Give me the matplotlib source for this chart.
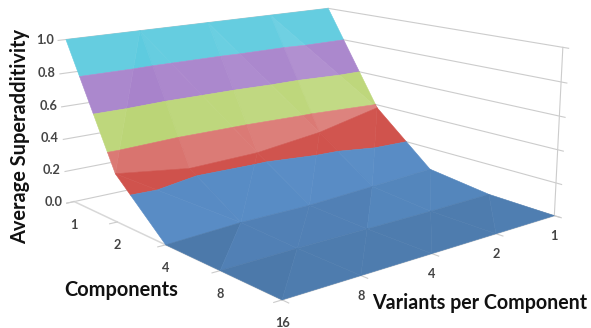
import numpy as np, matplotlib
matplotlib.use('Agg')
import matplotlib.pyplot as plt
from mpl_toolkits.mplot3d import proj3d
from mpl_toolkits.mplot3d.art3d import Poly3DCollection

components = [1, 2, 4, 8, 16]
variants = [1, 2, 4, 8, 16]
# rows: components, columns: variants
superadditivity = np.array([
    [1.00, 1.00, 1.00, 1.00, 1.00],
    [0.38, 0.29, 0.24, 0.23, 0.29],
    [0.06, 0.04, 0.02, 0.02, 0.00],
    [0.01, 0.005, 0.005, 0.005, 0.00],
    [0.00, 0.00, 0.00, 0.00, 0.00],
])
z_ticks = [0.0, 0.2, 0.4, 0.6, 0.8, 1.0]
band_colors = [(88, 140, 197), (208, 82, 76), (170, 203, 85), (146, 100, 190), (55, 190, 215)]

W, H = 591, 328
plt.rcParams['font.family'] = ['Lato', 'DejaVu Sans']
fig = plt.figure(figsize=(W / 100, H / 100), dpi=100)
ax = fig.add_axes([0, 0, 1, 1], projection='3d')
ax.set_axis_off()
ax.computed_zorder = False
ax.view_init(13.795, 50.498, 0.075)
ax.set_proj_type('persp', focal_length=0.4332)
ax.set_box_aspect((1, 1.0084, 0.4920))
xs = np.log2(variants)
ys = np.log2(components)
ax.set_xlim(0, 4); ax.set_ylim(0, 4); ax.set_zlim(0, 1)

# place the axes so the projected scene lands at the wanted pixels
S, TX, TY = 2724.83, 309.38, 200.67
ax.apply_aspect()
a = ax.transData.transform((0, 0)); b = ax.transData.transform((0.1, 0.1))
bb = ax.get_position()
size0 = bb.width * W
sc0 = (b[0] - a[0]) / 0.1
size = size0 * S / sc0
u0 = (a[0] - bb.x0 * W) / size0
v0 = (a[1] - bb.y0 * H) / size0
ax.set_position([(TX - size * u0) / W, (TY - size * v0) / H, size / W, size / H])

# box scale used for facet normals
BOX = np.array([1, 1.0084, 0.4920]) * 1.2675 / np.array([4, 4, 1])


def clip(poly, lo, hi):
    def cut(pts, keep, zc):
        out = []
        for i in range(len(pts)):
            p, q = pts[i], pts[(i + 1) % len(pts)]
            kp, kq = keep(p[2]), keep(q[2])
            if kp:
                out.append(p)
            if kp != kq:
                t = (zc - p[2]) / (q[2] - p[2])
                out.append(p + t * (q - p))
        return out
    pts = cut(list(poly), lambda z: z >= lo, lo)
    if len(pts) >= 3:
        pts = cut(pts, lambda z: z <= hi, hi)
    return pts


def shade(tri, base):
    t = np.array(tri) * BOX
    n = np.cross(t[1] - t[0], t[2] - t[0])
    n = n / np.linalg.norm(n)
    if n[2] < 0:
        n = -n
    if n[1] > 0.6:        # steep facets, lit
        l = 0.23 + 0.5 * n[0]
    elif n[1] > 0.15:     # mid slope
        l = 0.0 + 0.1 * n[0]
    else:                 # nearly flat floor
        l = min(-0.3 + 4 * n[1], -0.1)
    c = np.array(base, float)
    c = c + (255 - c) * l if l > 0 else c * (1 + 0.45 * l)
    return np.clip(c / 255, 0, 1)


polys, colors = [], []
Z = superadditivity
for i in range(len(ys) - 2, -1, -1):
    for j in range(len(xs) - 1):
        P = lambda r, s: np.array([xs[s], ys[r], Z[r, s]])
        p00, p01, p10, p11 = P(i, j), P(i, j + 1), P(i + 1, j), P(i + 1, j + 1)
        if Z[i, j] + Z[i + 1, j + 1] >= Z[i, j + 1] + Z[i + 1, j]:
            tris = [(p00, p01, p11), (p00, p11, p10)]
        else:
            tris = [(p00, p01, p10), (p01, p11, p10)]
        for tri in tris:
            for k, base in enumerate(band_colors):
                pts = clip(tri, z_ticks[k], z_ticks[k + 1] if k < 4 else 1.001)
                if len(pts) >= 3:
                    polys.append(np.array(pts))
                    colors.append(shade(tri, base))

coll = Poly3DCollection(polys, facecolors=colors, edgecolors=colors, linewidths=0.4, zorder=3)
coll.set_clip_on(False)
ax.add_collection3d(coll)

GRID = '#cccccc'
def line(xv, yv, zv, zo=1, lw=0.8, color=GRID):
    l, = ax.plot(xv, yv, zv, color=color, lw=lw, zorder=zo, clip_on=False)
    return l

for z in z_ticks:
    line([4.1, 0], [0, 0], [z, z])
    line([0, 0], [0, 4.08], [z, z])
line([0, 0], [4, 4], [0, 1])
line([4, 4], [0, 4], [0, 0], lw=1.1, color='#d8d8d8')
line([0, 4], [4, 4], [0, 0], lw=1.1, color='#d8d8d8')
for y in ys:
    line([4, 4.1], [y, y], [0, 0])
for x in xs:
    line([x, x], [4, 4.1], [0, 0])

TICK = dict(fontsize=9.2, fontweight='bold', color='#444444', ha='center', va='center', annotation_clip=False)
def label(x, y, z, text, dx, dy):
    px, py, _ = proj3d.proj_transform(x, y, z, ax.get_proj())
    ax.annotate(text, (px, py), xytext=(dx * 0.72, dy * 0.72), textcoords='offset points', **TICK)

for c, y in zip(components, ys):
    label(4, y, 0, str(c), 0, -23)
for v, x in zip(variants[:-1], xs[:-1]):   # the 16 corner label is shared with Components
    label(x, 4, 0, str(v), 0, -20.5)
for z in z_ticks:
    label(4, 0, z, f'{z:.1f}', -21, 0)

TITLE = dict(fontweight='bold', color='#111111', ha='center', va='center')
fig.text(121 / W, 1 - 290 / H, 'Components', fontsize=14.4, **TITLE)
fig.text(480 / W, 1 - 303 / H, 'Variants per Component', fontsize=14.1, **TITLE)
fig.text(20 / W, 1 - 137 / H, 'Average Superadditivity', rotation=90, fontsize=14.4, **TITLE)

fig.savefig('out.png', dpi=100)
